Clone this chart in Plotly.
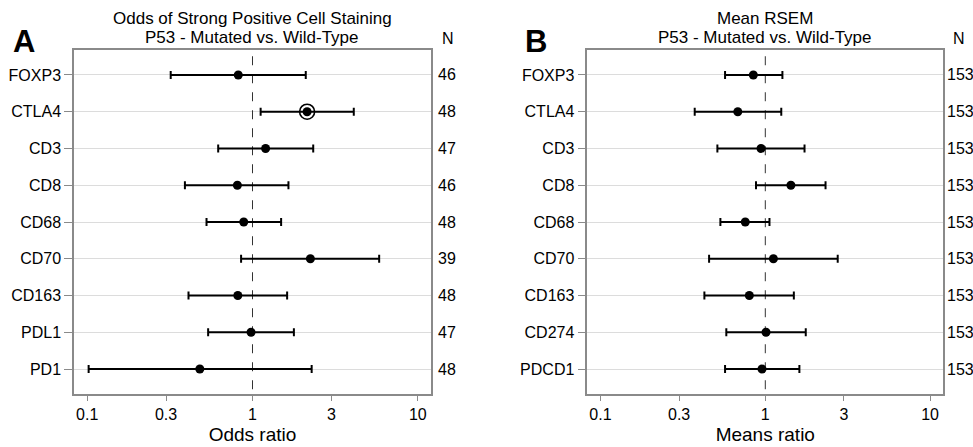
import plotly.graph_objects as go

# ---------------- data ----------------
cats_a = ["FOXP3", "CTLA4", "CD3", "CD8", "CD68", "CD70", "CD163", "PDL1", "PD1"]
or_a = [0.82, 2.14, 1.20, 0.81, 0.885, 2.24, 0.815, 0.98, 0.48]
lo_a = [0.32, 1.12, 0.62, 0.39, 0.527, 0.853, 0.41, 0.539, 0.102]
hi_a = [2.10, 4.10, 2.33, 1.65, 1.49, 5.84, 1.62, 1.78, 2.28]
n_a = [46, 48, 47, 46, 48, 39, 48, 47, 48]
highlight_a = ["CTLA4"]

cats_b = ["FOXP3", "CTLA4", "CD3", "CD8", "CD68", "CD70", "CD163", "CD274", "PDCD1"]
mr_b = [0.846, 0.681, 0.942, 1.43, 0.756, 1.12, 0.80, 1.01, 0.955]
lo_b = [0.570, 0.373, 0.512, 0.878, 0.534, 0.456, 0.427, 0.58, 0.57]
hi_b = [1.27, 1.25, 1.73, 2.32, 1.06, 2.75, 1.49, 1.76, 1.61]
n_b = [153, 153, 153, 153, 153, 153, 153, 153, 153]

x_ticks = [0.1, 0.3, 1, 3, 10]
x_tick_labels = ["0.1", "0.3", "1", "3", "10"]

W, H = 973, 447
FONT = "Liberation Sans, Arial, sans-serif"
AXC = "#8a8a8a"

fig = go.Figure()

dom_a = [74 / W, 431 / W]
dom_b = [587.3 / W, 943.3 / W]
ydom = [1 - 394 / H, 1 - 50 / H]


def add_panel(cats, est, lo, hi, xa, ya, highlight):
    idx = list(range(len(cats)))
    # reference line at 1
    fig.add_trace(go.Scatter(x=[1, 1], y=[-1, len(cats)], mode="lines",
                             line=dict(color="#333333", width=1, dash="dash"),
                             xaxis=xa, yaxis=ya, hoverinfo="skip", showlegend=False,
                             cliponaxis=True))
    fig.add_trace(go.Scatter(
        x=est, y=idx, mode="markers",
        marker=dict(color="black", size=9),
        error_x=dict(type="data", symmetric=False,
                     array=[h - e for h, e in zip(hi, est)],
                     arrayminus=[e - l for e, l in zip(est, lo)],
                     color="black", thickness=2, width=4),
        xaxis=xa, yaxis=ya, showlegend=False))
    hx = [e for c, e in zip(cats, est) if c in highlight]
    hy = [i for i, c in zip(idx, cats) if c in highlight]
    if hx:
        fig.add_trace(go.Scatter(x=hx, y=hy, mode="markers",
                                 marker=dict(symbol="circle-open", size=15,
                                             color="black", line=dict(width=1.6)),
                                 xaxis=xa, yaxis=ya, showlegend=False))


add_panel(cats_a, or_a, lo_a, hi_a, "x", "y", highlight_a)
add_panel(cats_b, mr_b, lo_b, hi_b, "x2", "y2", [])

xcommon = dict(type="log", range=[-1.08, 1.08], tickvals=x_ticks, ticktext=x_tick_labels,
               showgrid=False, zeroline=False, showline=True, linecolor=AXC, linewidth=1.5,
               mirror=True, ticks="outside", ticklen=5, tickcolor=AXC,
               tickfont=dict(size=16, color="black", family=FONT))


def ycommon(cats, anchor, dom):
    return dict(range=[len(cats) - 1 + 0.68, -0.68], tickvals=list(range(len(cats))),
                ticktext=cats, showgrid=True, gridcolor="#dcdcdc", gridwidth=1,
                zeroline=False, showline=True, linecolor=AXC, linewidth=1.5, mirror=True,
                ticks="outside", ticklen=8, tickcolor=AXC, domain=dom, anchor=anchor,
                tickfont=dict(size=16, color="black", family=FONT))


fig.update_layout(
    width=W, height=H, margin=dict(l=0, r=0, t=0, b=0),
    paper_bgcolor="white", plot_bgcolor="white",
    font=dict(family=FONT, color="black"),
    xaxis=dict(xcommon, domain=dom_a, anchor="y",
               title=dict(text="Odds ratio", font=dict(size=19), standoff=6)),
    xaxis2=dict(xcommon, domain=dom_b, anchor="y2",
                title=dict(text="Means ratio", font=dict(size=19), standoff=6)),
    yaxis=ycommon(cats_a, "x", ydom),
    yaxis2=ycommon(cats_b, "x2", ydom),
)

ann = []
# titles
for dom, l1, l2 in [(dom_a, "Odds of Strong Positive Cell Staining", "P53 - Mutated vs. Wild-Type"),
                    (dom_b, "Mean RSEM", "P53 - Mutated vs. Wild-Type")]:
    cx = (dom[0] + dom[1]) / 2
    ann.append(dict(text=l1, x=cx, y=1 - 19 / H, xref="paper", yref="paper",
                    xanchor="center", yanchor="middle", showarrow=False, font=dict(size=17)))
    ann.append(dict(text=l2, x=cx, y=1 - 37 / H, xref="paper", yref="paper",
                    xanchor="center", yanchor="middle", showarrow=False, font=dict(size=17)))
# panel letters
ann.append(dict(text="<b>A</b>", x=11 / W, y=1 - 42 / H, xref="paper", yref="paper",
                xanchor="left", yanchor="middle", showarrow=False, font=dict(size=31)))
ann.append(dict(text="<b>B</b>", x=523 / W, y=1 - 42 / H, xref="paper", yref="paper",
                xanchor="left", yanchor="middle", showarrow=False, font=dict(size=31)))
# N headers
ann.append(dict(text="N", x=447.5 / W, y=1 - 39 / H, xref="paper", yref="paper",
                xanchor="center", yanchor="middle", showarrow=False, font=dict(size=16)))
ann.append(dict(text="N", x=958.5 / W, y=1 - 39 / H, xref="paper", yref="paper",
                xanchor="center", yanchor="middle", showarrow=False, font=dict(size=16)))
for i, n in enumerate(n_a):
    ann.append(dict(text=str(n), x=436 / W, y=i, xref="paper", yref="y",
                    xanchor="left", yanchor="middle", showarrow=False, font=dict(size=16)))
for i, n in enumerate(n_b):
    ann.append(dict(text=str(n), x=945 / W, y=i, xref="paper", yref="y2",
                    xanchor="left", yanchor="middle", showarrow=False, font=dict(size=16)))
fig.update_layout(annotations=ann)

fig.write_html("out.html", config={"displayModeBar": False},
               post_script="document.body.style.margin='0';document.body.style.padding='0';")
